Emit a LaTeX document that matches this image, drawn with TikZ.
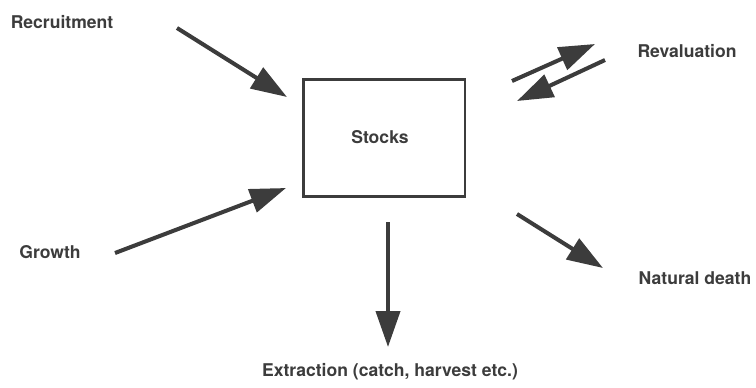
\documentclass[tikz,border=0pt]{standalone}
\usepackage{fontspec}
\setmainfont{TeX Gyre Heros}
\usetikzlibrary{arrows.meta}
\definecolor{inkgray}{HTML}{3C3C3C}
\tikzset{
  flow/.style={line width=2.3pt, color=inkgray, -{Triangle[length=0.72cm,width=0.48cm]}},
  lbl/.style={font=\bfseries\fontsize{10}{12}\selectfont, text=inkgray, inner sep=0pt},
  stockbox/.style={draw=inkgray, line width=1.7pt, minimum width=3.24cm, minimum height=2.34cm}
}
\begin{document}
\begin{tikzpicture}[x=0.02cm,y=-0.02cm]
    \useasboundingbox (0,0) rectangle (756,387);
    %stocks
    \node[stockbox] (stocks) at (384,138) {};
    \node[lbl] (stockstext) at (380,137) {Stocks};
    %inflows
    \node[lbl] (recruit) at (62,22) {Recruitment};
    \coordinate (r1) at (177,28);
    \coordinate (r2) at (287,97);
    \draw[flow] (r1) -- (r2);
    \node[lbl] (growth) at (50,252) {Growth};
    \coordinate (g1) at (115,253);
    \coordinate (g2) at (286,188);
    \draw[flow] (g1) -- (g2);
    %revaluation
    \node[lbl] (reval) at (687,51) {Revaluation};
    \coordinate (v1) at (512,81);
    \coordinate (v2) at (595,44);
    \coordinate (v3) at (605,60);
    \coordinate (v4) at (517,101);
    \draw[flow] (v1) -- (v2);
    \draw[flow] (v3) -- (v4);
    %outflows
    \node[lbl] (death) at (695,278) {Natural death};
    \coordinate (d1) at (517,214);
    \coordinate (d2) at (603,268);
    \draw[flow] (d1) -- (d2);
    \node[lbl] (extract) at (390,372) {Extraction (catch, harvest etc.)};
    \coordinate (e1) at (388,222);
    \coordinate (e2) at (388,347);
    \draw[flow] (e1) -- (e2);
\end{tikzpicture}
\end{document}
